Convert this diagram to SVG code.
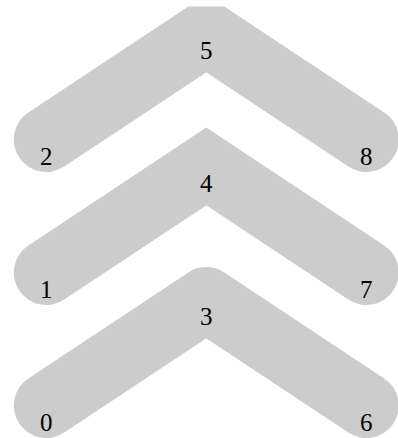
<svg xmlns="http://www.w3.org/2000/svg" width="398" height="438" viewBox="0 0 398 438">
<style>
.c{fill:none;stroke:#cccccc;stroke-width:65;stroke-linecap:round}
.t{font-family:"Liberation Serif","Times New Roman",serif;font-size:25px;fill:#000;text-anchor:middle}
</style>
<rect width="398" height="438" fill="#fff"/>
<g id="connectors">
<polyline class="c" points="46.3,139.5 206.3,33.5 366.3,139.5" stroke-linejoin="bevel"/>
<polyline class="c" points="46.3,272.5 206.3,166.5 366.3,272.5" stroke-linejoin="miter" stroke-miterlimit="10"/>
<polyline class="c" points="46.3,405.5 206.3,299.5 366.3,405.5" stroke-linejoin="round"/>
</g>
<g id="n0"><text class="t" x="46.3" y="431">0</text></g>
<g id="n1"><text class="t" x="46.3" y="298">1</text></g>
<g id="n2"><text class="t" x="46.3" y="165">2</text></g>
<g id="n3"><text class="t" x="206.3" y="325">3</text></g>
<g id="n4"><text class="t" x="206.3" y="192">4</text></g>
<g id="n5"><text class="t" x="206.3" y="59">5</text></g>
<g id="n6"><text class="t" x="366.3" y="431">6</text></g>
<g id="n7"><text class="t" x="366.3" y="298">7</text></g>
<g id="n8"><text class="t" x="366.3" y="165">8</text></g>
</svg>
